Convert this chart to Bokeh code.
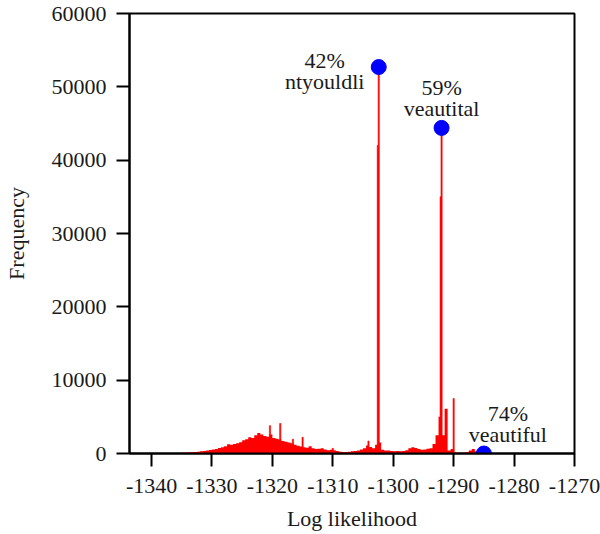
import numpy as np
from bokeh.plotting import figure
from bokeh.models import ColumnDataSource, FixedTicker, NumeralTickFormatter, Range1d
from bokeh.core.properties import value
from bokeh.embed import file_html
from bokeh.resources import INLINE

# ---- data ----
# background histogram: bins of width 0.5, first bin centred at -1337.75
bin_start = -1337.75
bin_width = 0.5
hist_counts = [
    20, 30, 40, 50, 60, 80, 90, 110, 140, 170,
    200, 250, 300, 340, 400, 480, 550, 620, 750, 850,
    1000, 1250, 1200, 1300, 1400, 1550, 1800, 1950, 2200, 2100,
    2500, 2800, 2600, 2400, 2300, 2600, 2100, 2000, 1900, 1700,
    1600, 1500, 1400, 1200, 1050, 950, 850, 800, 1000, 700,
    600, 650, 700, 550, 450, 500, 450, 350, 250, 200,
    200, 250, 300, 350, 400, 550, 700, 1100, 900, 700,
    1200, 1500, 500, 400, 400, 350, 300, 350, 300, 350,
    450, 700, 850, 750, 600, 500, 550, 650, 700, 1300,
    2500, 5000, 2500, 6100, 400, 600, 150, 100, 100, 100,
    200, 400, 600, 300, 50,
]
# narrow spikes
spike_x = [-1320.4, -1318.7, -1316.6, -1315.0, -1310.0, -1304.1,
           -1302.55, -1302.4, -1292.15, -1292.0, -1290.0]
spike_counts = [3800, 4100, 1950, 2200, 700, 1700,
                42000, 52700, 35000, 44400, 7500]

# marked points and labels
mark_x = [-1302.4, -1292.0, -1285.0]
mark_y = [52700, 44400, 0]
mark_pct = ["42%", "59%", "74%"]
mark_word = ["ntyouldli", "veautital", "veautiful"]

x_ticks = [-1340, -1330, -1320, -1310, -1300, -1290, -1280, -1270]
y_ticks = [0, 10000, 20000, 30000, 40000, 50000, 60000]

FONT = "Liberation Serif"

p = figure(width=600, height=534, output_backend="svg", toolbar_location=None,
           x_range=Range1d(-1343.65, -1270), y_range=Range1d(0, 60000))
p.min_border_left = 129
p.min_border_right = 26
p.min_border_top = 13
p.min_border_bottom = 81
p.background_fill_color = "white"
p.border_fill_color = "white"
p.outline_line_color = "black"
p.outline_line_width = 2
p.grid.visible = False

centers = bin_start + bin_width * np.arange(len(hist_counts))
hsrc = ColumnDataSource(dict(x=centers, y1=[0] * len(hist_counts), y2=hist_counts))
p.varea_step(x="x", y1="y1", y2="y2", step_mode="center", source=hsrc,
             fill_color="#ff0000")

sx = np.array(spike_x)
ssrc = ColumnDataSource(dict(left=sx - 0.1, right=sx + 0.1, top=spike_counts,
                             bottom=[0] * len(spike_x)))
p.quad(left="left", right="right", top="top", bottom="bottom", source=ssrc,
       fill_color="#ff0000", line_color="#ff0000", line_width=0.6)

p.scatter(mark_x, mark_y, size=15, fill_color="#0000ff", line_color="#0000ff")

# labels
x_off = [-54, 0, 24]
y_off_pct = [-7, -40, -40]
y_off_word = [14, -19, -19]
tsrc = ColumnDataSource(dict(
    x=mark_x + mark_x, y=mark_y + mark_y, text=mark_pct + mark_word,
    xo=x_off + x_off, yo=y_off_pct + y_off_word))
p.text(x="x", y="y", text="text", x_offset="xo", y_offset="yo", source=tsrc,
       text_font=value(FONT), text_font_size="22px", text_color="#1a1a1a",
       text_align="center", text_baseline="alphabetic")

for ax in (p.xaxis[0], p.yaxis[0]):
    ax.axis_line_color = "black"
    ax.axis_line_width = 2
    ax.major_tick_line_color = "black"
    ax.major_tick_line_width = 2
    ax.major_tick_out = 13
    ax.major_tick_in = 0
    ax.minor_tick_line_color = None
    ax.major_label_text_font = FONT
    ax.major_label_text_font_size = "22px"
    ax.major_label_text_color = "#1a1a1a"
    ax.axis_label_text_font = FONT
    ax.axis_label_text_font_size = "22px"
    ax.axis_label_text_font_style = "normal"
    ax.axis_label_text_color = "#1a1a1a"
    ax.formatter = NumeralTickFormatter(format="0")

p.xaxis[0].ticker = FixedTicker(ticks=x_ticks)
p.yaxis[0].ticker = FixedTicker(ticks=y_ticks)
p.xaxis[0].axis_label = "Log likelihood"
p.yaxis[0].axis_label = "Frequency"
p.xaxis[0].major_label_standoff = 12
p.xaxis[0].axis_label_standoff = 10
p.yaxis[0].major_label_standoff = 10
p.yaxis[0].axis_label_standoff = 20

open("out.html", "w").write(file_html(p, INLINE))
